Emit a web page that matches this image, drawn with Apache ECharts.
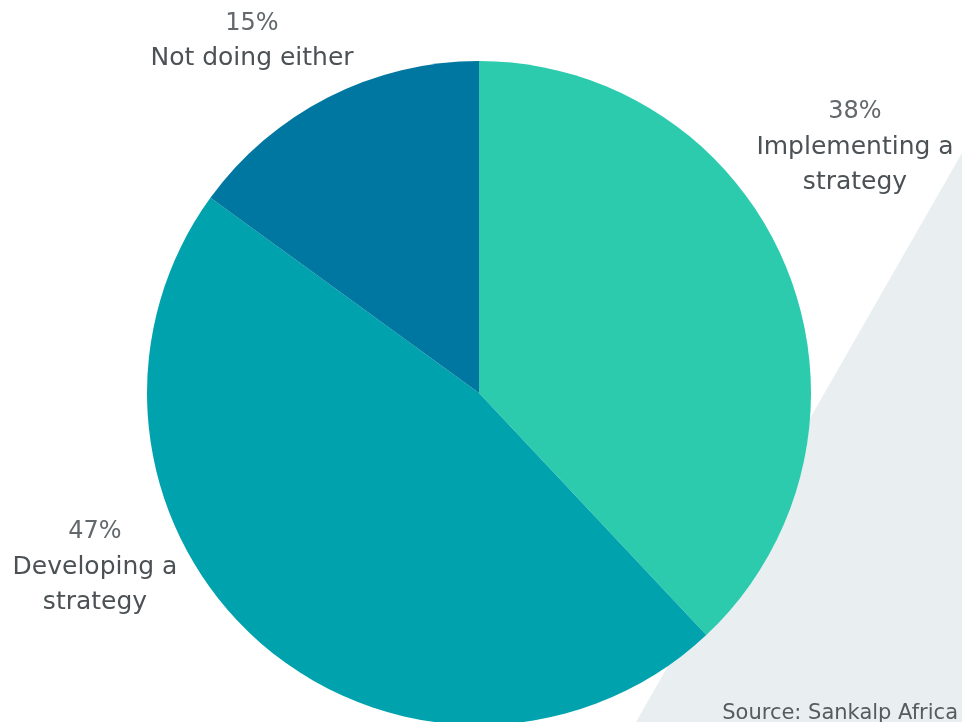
<!DOCTYPE html>
<html><head><meta charset="utf-8">
<script src="https://cdn.jsdelivr.net/npm/echarts@6/dist/echarts.min.js"></script>
<style>html,body{margin:0;padding:0;background:#fff}#c{width:962px;height:722px}</style>
</head><body><div id="c"></div>
<script>
const categories = ['Implementing a\nstrategy', 'Developing a\nstrategy', 'Not doing either'];
const values = [38, 47, 15];
const colors = ['#2ccbae', '#00a3ad', '#0077a0'];
const labelPos = [[855, 147], [95, 567], [252, 41]];

const chart = echarts.init(document.getElementById('c'));
const FONT = '"DejaVu Sans", sans-serif';
chart.setOption({
  backgroundColor: '#ffffff',
  animation: false,
  graphic: [
    { type: 'polygon', z: -10, shape: { points: [[962, 153], [962, 722], [636, 722]] }, style: { fill: '#e9eef1' } },
    { type: 'text', right: 4, top: 703, style: { text: 'Source: Sankalp Africa', fill: '#555b5e', font: '21px ' + FONT } }
  ],
  series: [{
    type: 'pie',
    center: [479, 393],
    radius: [0, 332],
    startAngle: 90,
    clockwise: true,
    data: categories.map((c, i) => ({ name: c, value: values[i], itemStyle: { color: colors[i] } })),
    label: {
      show: true,
      position: 'inside',
      overflow: 'none',
      formatter: p => '{p|' + p.value + '%}\n' + p.name.split('\n').map(s => '{n|' + s + '}').join('\n'),
      rich: {
        p: { fontFamily: FONT, fontSize: 24, color: '#62686b', lineHeight: 35, align: 'center' },
        n: { fontFamily: FONT, fontSize: 25, color: '#4b5154', lineHeight: 35, align: 'center' }
      },
      align: 'center'
    },
    labelLine: { show: false },
    labelLayout: p => ({ x: labelPos[p.dataIndex][0], y: labelPos[p.dataIndex][1], align: 'center', verticalAlign: 'middle' }),
    emphasis: { disabled: true }
  }]
});
</script></body></html>
